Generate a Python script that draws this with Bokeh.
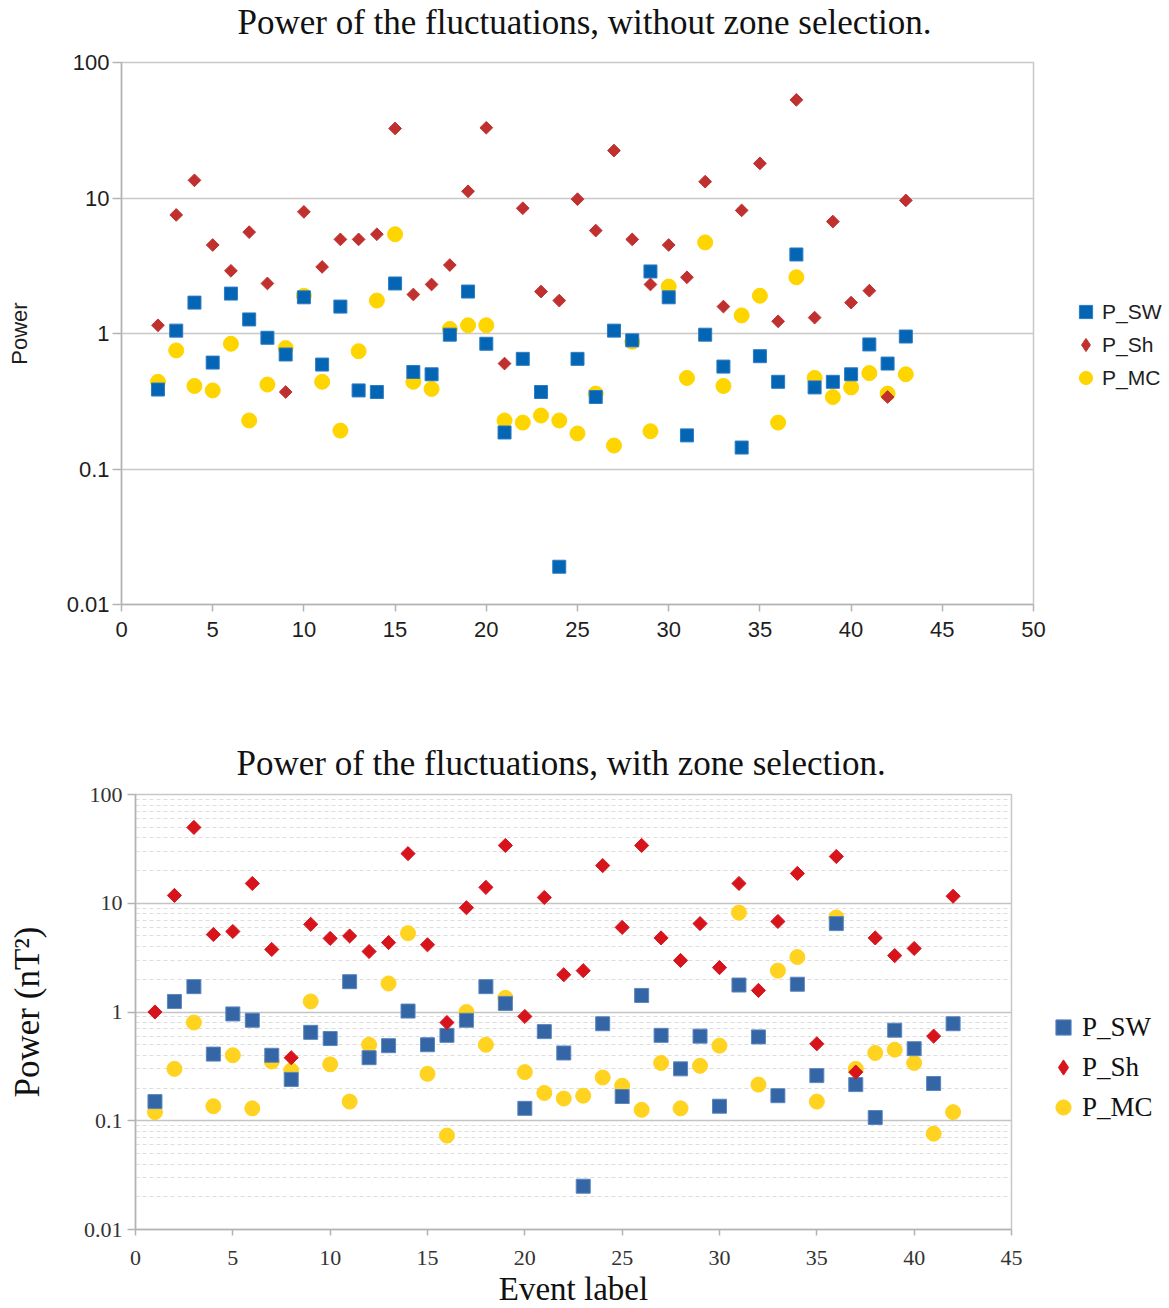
import numpy as np
from bokeh.plotting import figure
from bokeh.models import (Range1d, FixedTicker, CustomJSTickFormatter, Legend, LegendItem,
                          ColumnDataSource, CDSView, IndexFilter, Title)
from bokeh.layouts import column, row
from bokeh.embed import file_html
from bokeh.resources import INLINE

# ---------------- data: top chart (without zone selection) ----------------
top_events = [2, 3, 4, 5, 6, 7, 8, 9, 10, 11, 12, 13, 14, 15, 16, 17, 18, 19, 20, 21, 22,
              23, 24, 25, 26, 27, 28, 29, 30, 31, 32, 33, 34, 35, 36, 37, 38, 39, 40, 41, 42, 43]
top_sw = [0.386, 1.05, 1.69, 0.61, 1.97, 1.27, 0.93, 0.70, 1.85, 0.59, 1.58, 0.38, 0.37, 2.34,
          0.52, 0.50, 0.98, 2.04, 0.84, 0.186, 0.65, 0.37, 0.019, 0.65, 0.34, 1.05, 0.89, 2.87,
          1.85, 0.177, 0.98, 0.57, 0.144, 0.68, 0.44, 3.83, 0.40, 0.44, 0.50, 0.83, 0.60, 0.95]
top_sh = [1.15, 7.5, 13.5, 4.5, 2.9, 5.6, 2.34, 0.37, 7.9, 3.1, 4.95, 4.95, 5.4, 32.6,
          1.94, 2.3, 3.2, 11.2, 33.0, 0.60, 8.4, 2.04, 1.75, 9.8, 5.75, 22.4, 4.95, 2.3,
          4.5, 2.6, 13.2, 1.58, 8.1, 18.0, 1.23, 53.0, 1.31, 6.7, 1.69, 2.07, 0.34, 9.6]
top_mc = [0.44, 0.75, 0.41, 0.38, 0.84, 0.228, 0.42, 0.78, 1.9, 0.44, 0.192, 0.74, 1.75, 5.4,
          0.44, 0.39, 1.08, 1.15, 1.15, 0.228, 0.22, 0.248, 0.228, 0.183, 0.36, 0.149, 0.87, 0.19,
          2.22, 0.47, 4.7, 0.41, 1.36, 1.9, 0.22, 2.6, 0.47, 0.34, 0.40, 0.51, 0.36, 0.50]

# ---------------- data: bottom chart (with zone selection) ----------------
bot_events = [1, 2, 3, 4, 5, 6, 7, 8, 9, 10, 11, 12, 13, 14, 15, 16, 17, 18, 19, 20, 21,
              22, 23, 24, 25, 26, 27, 28, 29, 30, 31, 32, 33, 34, 35, 36, 37, 38, 39, 40, 41, 42]
bot_sw = [0.15, 1.25, 1.71, 0.41, 0.96, 0.84, 0.40, 0.24, 0.65, 0.57, 1.9, 0.38, 0.49, 1.02,
          0.50, 0.61, 0.84, 1.71, 1.2, 0.13, 0.66, 0.42, 0.025, 0.78, 0.167, 1.42, 0.61, 0.30,
          0.60, 0.136, 1.77, 0.59, 0.17, 1.8, 0.26, 6.5, 0.215, 0.107, 0.68, 0.46, 0.22, 0.78]
bot_sh = [1.0, 11.8, 49.8, 5.16, 5.5, 15.2, 3.76, 0.38, 6.4, 4.75, 5.0, 3.6, 4.35, 28.6,
          4.15, 0.80, 9.1, 14.0, 34.0, 0.91, 11.3, 2.2, 2.4, 22.2, 6.0, 34.0, 4.8, 2.98,
          6.5, 2.56, 15.2, 1.58, 6.8, 18.8, 0.51, 26.9, 0.28, 4.8, 3.3, 3.84, 0.60, 11.6]
bot_mc = [0.12, 0.30, 0.80, 0.136, 0.40, 0.13, 0.35, 0.29, 1.25, 0.33, 0.15, 0.50, 1.83, 5.3,
          0.27, 0.073, 1.0, 0.50, 1.35, 0.28, 0.18, 0.16, 0.17, 0.25, 0.21, 0.126, 0.34, 0.13,
          0.32, 0.49, 8.2, 0.215, 2.4, 3.2, 0.15, 7.4, 0.30, 0.42, 0.45, 0.34, 0.076, 0.12]

series_labels = ["P_SW", "P_Sh", "P_MC"]
top_title = "Power of the fluctuations, without zone selection."
bot_title = "Power of the fluctuations, with zone selection."
top_xticks = [0, 5, 10, 15, 20, 25, 30, 35, 40, 45, 50]
bot_xticks = [0, 5, 10, 15, 20, 25, 30, 35, 40, 45]
y_ticks = [0.01, 0.1, 1, 10, 100]
y_minor = [m * d for d in [0.01, 0.1, 1, 10] for m in [2, 3, 4, 5, 6, 7, 8, 9]]

fmt_code = "return tick.toString();"


def style_axes(p, tick_font, tick_size, tick_color):
    for ax in (p.xaxis, p.yaxis):
        ax.axis_line_color = "#b3b3b3"
        ax.axis_line_width = 1.5
        ax.major_tick_line_color = "#b3b3b3"
        ax.major_tick_line_width = 1.5
        ax.major_tick_in = 0
        ax.minor_tick_line_color = None
        ax.major_label_text_font = tick_font
        ax.major_label_text_font_size = tick_size
        ax.major_label_text_color = tick_color
    p.xgrid.grid_line_color = None
    p.ygrid.grid_line_color = "#c8c8c8"
    p.ygrid.grid_line_width = 1.5
    p.outline_line_color = "#c8c8c8"
    p.outline_line_width = 1.5
    p.background_fill_color = "white"
    p.border_fill_color = "white"


def add_title(p, text, gap, offset):
    # an invisible spacer title next to the frame, then the real title above it
    p.add_layout(Title(text=" ", text_font_size="2px", standoff=gap), "above")
    p.add_layout(Title(text=text, text_font="Liberation Serif", text_font_size="35px",
                       text_font_style="normal", text_color="#111111",
                       align="left", offset=offset, standoff=0), "above")


# ======================= TOP FIGURE =======================
p1 = figure(frame_width=912, frame_height=542,
            x_range=Range1d(0, 50), y_range=Range1d(0.01, 100), y_axis_type="log",
            output_backend="svg", toolbar_location=None,
            min_border_left=121, min_border_right=130, min_border_top=56, min_border_bottom=92)
add_title(p1, top_title, 17, 116)

style_axes(p1, "Liberation Sans", "22px", "#1e1e1e")
p1.xaxis.ticker = FixedTicker(ticks=top_xticks)
p1.xaxis.major_tick_out = 7
p1.xaxis.major_label_standoff = 10
p1.yaxis.ticker = FixedTicker(ticks=y_ticks)
p1.yaxis.formatter = CustomJSTickFormatter(code=fmt_code)
p1.yaxis.major_tick_out = 9
p1.yaxis.major_label_standoff = 3
p1.yaxis.axis_label = "Power"
p1.yaxis.axis_label_text_font = "Liberation Sans"
p1.yaxis.axis_label_text_font_size = "22px"
p1.yaxis.axis_label_text_font_style = "normal"
p1.yaxis.axis_label_text_color = "#1e1e1e"
p1.yaxis.axis_label_standoff = 32

c_sw1, c_sh1, c_mc1 = "#0365b3", "#c0302f", "#ffd500"
src_top = ColumnDataSource(dict(x=top_events, sw=top_sw, sh=top_sh, mc=top_mc))
r_mc1 = p1.scatter("x", "mc", source=src_top, marker="circle", size=15,
                   fill_color=c_mc1, line_color=c_mc1)
r_sw1 = p1.scatter("x", "sw", source=src_top, marker="square", size=13,
                   fill_color=c_sw1, line_color="#2c7cc4", line_width=1)
r_sh1 = p1.scatter("x", "sh", source=src_top, marker="square", angle=np.pi / 4, size=9,
                   fill_color=c_sh1, line_color=c_sh1)
# legend proxy: one diamond drawn inside the first rotated-square marker (same colour)
leg_sh1 = p1.scatter("x", "sh", source=src_top, view=CDSView(filter=IndexFilter(indices=[0])),
                     marker="diamond", size=8, fill_color=c_sh1, line_color=c_sh1)

leg1 = Legend(items=[LegendItem(label=series_labels[0], renderers=[r_sw1]),
                     LegendItem(label=series_labels[1], renderers=[leg_sh1]),
                     LegendItem(label=series_labels[2], renderers=[r_mc1])],
              location=(36, 210), glyph_width=33, glyph_height=33, spacing=-2,
              label_standoff=0, padding=0, margin=0,
              border_line_color=None, background_fill_alpha=0,
              label_text_font="Liberation Sans", label_text_font_size="21px",
              label_text_color="#1e1e1e")
p1.add_layout(leg1, "right")

# ======================= BOTTOM FIGURE =======================
p2 = figure(frame_width=876, frame_height=435,
            x_range=Range1d(0, 45), y_range=Range1d(0.01, 100), y_axis_type="log",
            output_backend="svg", toolbar_location=None,
            min_border_left=135, min_border_right=150, min_border_top=98, min_border_bottom=60)
add_title(p2, bot_title, 8, 101)

style_axes(p2, "Liberation Serif", "22px", "#333333")
p2.xaxis.ticker = FixedTicker(ticks=bot_xticks)
p2.xaxis.major_tick_out = 6
p2.xaxis.major_label_standoff = 15
p2.yaxis.ticker = FixedTicker(ticks=y_ticks, minor_ticks=y_minor)
p2.yaxis.formatter = CustomJSTickFormatter(code=fmt_code)
p2.yaxis.major_tick_out = 8
p2.yaxis.major_label_standoff = 5
p2.ygrid.minor_grid_line_color = "#dddddd"
p2.ygrid.minor_grid_line_dash = "4 3"
p2.ygrid.minor_grid_line_width = 1
p2.ygrid.grid_line_color = "#c4c4c4"
p2.yaxis.axis_label = "Power (nT²)"
p2.xaxis.axis_label = "Event label"
for ax in (p2.xaxis, p2.yaxis):
    ax.axis_label_text_font = "Liberation Serif"
    ax.axis_label_text_font_style = "normal"
    ax.axis_label_text_color = "#111111"
p2.yaxis.axis_label_text_font_size = "35px"
p2.xaxis.axis_label_text_font_size = "33px"
p2.yaxis.axis_label_standoff = 34
p2.xaxis.axis_label_standoff = 3

c_sw2, c_sh2, c_mc2 = "#3465a4", "#d7141c", "#ffd320"
src_bot = ColumnDataSource(dict(x=bot_events, sw=bot_sw, sh=bot_sh, mc=bot_mc))
r_mc2 = p2.scatter("x", "mc", source=src_bot, marker="circle", size=15,
                   fill_color=c_mc2, line_color=c_mc2)
r_sw2 = p2.scatter("x", "sw", source=src_bot, marker="square", size=14,
                   fill_color=c_sw2, line_color="#5b86bf", line_width=1)
r_sh2 = p2.scatter("x", "sh", source=src_bot, marker="square", angle=np.pi / 4, size=10,
                   fill_color=c_sh2, line_color=c_sh2)
leg_sh2 = p2.scatter("x", "sh", source=src_bot, view=CDSView(filter=IndexFilter(indices=[0])),
                     marker="diamond", size=9, fill_color=c_sh2, line_color=c_sh2)

leg2 = Legend(items=[LegendItem(label=series_labels[0], renderers=[r_sw2]),
                     LegendItem(label=series_labels[1], renderers=[leg_sh2]),
                     LegendItem(label=series_labels[2], renderers=[r_mc2])],
              location=(33, 103), glyph_width=38, glyph_height=38, spacing=2,
              label_standoff=0, padding=0, margin=0,
              border_line_color=None, background_fill_alpha=0,
              label_text_font="Liberation Serif", label_text_font_size="27px",
              label_text_color="#111111")
p2.add_layout(leg2, "right")

layout = column(row(p1), row(p2))
open("out.html", "w").write(file_html(layout, INLINE))
